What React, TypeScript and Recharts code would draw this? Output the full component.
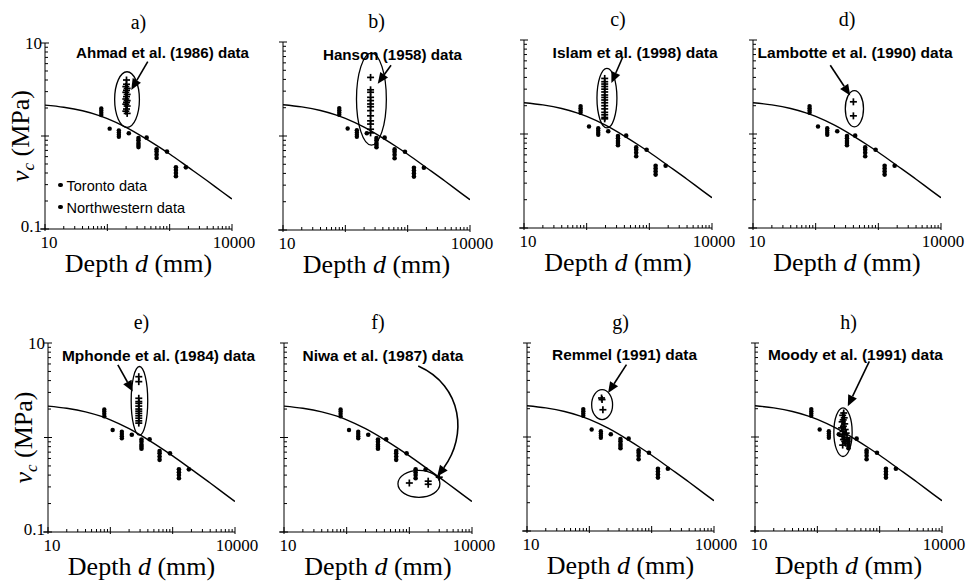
import React from 'react';
import {
  ScatterChart,
  Scatter,
  XAxis,
  YAxis,
  ReferenceArea,
  ReferenceLine,
  ReferenceDot,
  Legend,
  Label,
} from 'recharts';

const SERIF = '"Liberation Serif", "Times New Roman", serif';
const SANS = '"Liberation Sans", Arial, sans-serif';

// ---------- data ----------
const CURVE_DEPTH = [10, 20, 40, 70, 100, 200, 400, 700, 1000, 2000, 4000, 7000, 10000];
const CURVE_SHEAR = [2.15, 2.04, 1.87, 1.68, 1.54, 1.24, 0.95, 0.75, 0.64, 0.46, 0.33, 0.25, 0.21];

const TORONTO_DEPTH = [221, 316, 316, 316, 316, 316, 427, 617, 617, 617, 617, 905, 1260, 1260, 1260, 1260, 1820];
const TORONTO_SHEAR = [1.07, 0.95, 0.9, 0.84, 0.8, 0.76, 0.96, 0.72, 0.68, 0.63, 0.58, 0.68, 0.46, 0.43, 0.4, 0.37, 0.46];

const NW_DEPTH = [80, 80, 80, 80, 109, 153, 153, 153, 153];
const NW_SHEAR = [1.98, 1.88, 1.78, 1.68, 1.2, 1.15, 1.09, 1.03, 0.98];

const AHMAD_DEPTH = [203, 203, 198, 208, 203, 198, 208, 203, 198, 208, 203, 198, 208, 203, 198, 208];
const AHMAD_SHEAR = [4.0, 3.6, 3.4, 3.25, 3.1, 2.95, 2.8, 2.65, 2.5, 2.4, 2.3, 2.2, 2.1, 1.95, 1.85, 1.75];

const HANSON_DEPTH = [254, 254, 254, 254, 254, 254, 254, 254, 254, 254, 254, 254, 254];
const HANSON_SHEAR = [4.2, 3.1, 2.92, 2.58, 2.38, 2.19, 2.05, 1.86, 1.64, 1.45, 1.34, 1.18, 1.08];

const ISLAM_DEPTH = [194, 194, 194, 194, 194, 194, 194, 194, 194, 194, 194, 194, 194, 194, 194, 194];
const ISLAM_SHEAR = [3.9, 3.6, 3.4, 3.2, 3.0, 2.8, 2.6, 2.45, 2.3, 2.15, 2.0, 1.85, 1.7, 1.6, 1.5, 1.45];

const LAMBOTTE_DEPTH = [400, 400];
const LAMBOTTE_SHEAR = [2.2, 1.56];

const MPHONDE_DEPTH = [286, 286, 286, 286, 286, 286, 286, 286, 286, 286, 286, 286, 286];
const MPHONDE_SHEAR = [4.4, 3.9, 2.6, 2.4, 2.3, 2.15, 2.0, 1.9, 1.8, 1.7, 1.6, 1.5, 1.42];

const NIWA_DEPTH = [1000, 2000, 2000, 3000];
const NIWA_SHEAR = [0.33, 0.32, 0.345, 0.38];

const REMMEL_DEPTH = [157, 160, 165];
const REMMEL_SHEAR = [2.6, 2.5, 1.95];

const MOODY_DEPTH = [265, 255, 270, 260, 250, 275, 262, 245, 280, 258, 290, 268, 250, 300, 262, 275, 285, 255];
const MOODY_SHEAR = [1.8, 1.7, 1.6, 1.52, 1.45, 1.38, 1.3, 1.25, 1.2, 1.15, 1.1, 1.06, 1.02, 0.98, 0.94, 0.9, 0.86, 0.82];

const X_TICKS = [10, 20, 30, 40, 50, 60, 70, 80, 90, 100, 200, 300, 400, 500, 600, 700, 800, 900, 1000, 2000, 3000, 4000, 5000, 6000, 7000, 8000, 9000, 10000];
const X_MAJOR = [10, 100, 1000, 10000];
const X_LABELS = [10, 10000];
const Y_TICKS = [0.1, 0.2, 0.3, 0.4, 0.5, 0.6, 0.7, 0.8, 0.9, 1, 2, 3, 4, 5, 6, 7, 8, 9, 10];
const Y_MAJOR = [0.1, 1, 10];
const Y_LABELS = [10, 0.1];
const LEGEND_NAMES = ['Toronto data', 'Northwestern data'];

const zip = (ds: number[], vs: number[]) => ds.map((d, i) => ({ d, v: vs[i] }));
const curveData = zip(CURVE_DEPTH, CURVE_SHEAR);
const torontoData = zip(TORONTO_DEPTH, TORONTO_SHEAR);
const nwData = zip(NW_DEPTH, NW_SHEAR);

// ---------- layout / annotations ----------
type PanelCfg = {
  title: string;
  L: number; T: number; R: number; B: number;
  yLabels: boolean;
  legend: boolean;
  note: string;
  noteAt: [number, number];
  noteW: number;
  depth: number[];
  shear: number[];
  ellipse: [number, number, number, number];
  arrow: [number, number, number, number];
  curved?: boolean;
};

const PANELS: PanelCfg[] = [
  { title: 'a)', L: 45, T: 43, R: 232, B: 229, yLabels: true, legend: true, note: 'Ahmad et al. (1986) data', noteAt: [767, 6.9], noteW: 173, depth: AHMAD_DEPTH, shear: AHMAD_SHEAR, ellipse: [131, 327, 1.24, 4.91], arrow: [445, 6.3, 242, 3.13] },
  { title: 'b)', L: 283, T: 42, R: 470, B: 230, yLabels: false, legend: false, note: 'Hanson (1958) data', noteAt: [571, 6.42], noteW: 139, depth: HANSON_DEPTH, shear: HANSON_SHEAR, ellipse: [151, 455, 0.8, 7.6], arrow: [541, 5.66, 331, 3.6] },
  { title: 'c)', L: 524, T: 40, R: 712, B: 228, yLabels: false, legend: false, note: 'Islam et al. (1998) data', noteAt: [593, 6.42], noteW: 165, depth: ISLAM_DEPTH, shear: ISLAM_SHEAR, ellipse: [146, 304, 1.16, 5.0], arrow: [375, 6.56, 248, 3.48] },
  { title: 'd)', L: 753, T: 40, R: 941, B: 228, yLabels: false, legend: false, note: 'Lambotte et al. (1990) data', noteAt: [425, 6.42], noteW: 195, depth: LAMBOTTE_DEPTH, shear: LAMBOTTE_SHEAR, ellipse: [297, 580, 1.19, 2.9], arrow: [171, 5.38, 356, 2.57] },
  { title: 'e)', L: 48, T: 343, R: 235, B: 532, yLabels: true, legend: false, note: 'Mphonde et al. (1984) data', noteAt: [593, 6.42], noteW: 193, depth: MPHONDE_DEPTH, shear: MPHONDE_SHEAR, ellipse: [216, 398, 1.06, 5.64], arrow: [132, 5.88, 229, 3.06] },
  { title: 'f)', L: 284, T: 343, R: 472, B: 532, yLabels: false, legend: false, note: 'Niwa et al. (1987) data', noteAt: [380, 6.42], noteW: 161, depth: NIWA_DEPTH, shear: NIWA_SHEAR, ellipse: [658, 3076, 0.233, 0.449], arrow: [1387, 5.7, 2786, 0.387], curved: true },
  { title: 'g)', L: 527, T: 343, R: 714, B: 531, yLabels: false, legend: false, note: 'Remmel (1991) data', noteAt: [367, 6.58], noteW: 145, depth: REMMEL_DEPTH, shear: REMMEL_SHEAR, ellipse: [109, 236, 1.53, 3.19], arrow: [394, 5.88, 200, 2.94] },
  { title: 'h)', L: 755, T: 343, R: 942, B: 531, yLabels: false, legend: false, note: 'Moody et al. (1991) data', noteAt: [409, 6.58], noteW: 175, depth: MOODY_DEPTH, shear: MOODY_SHEAR, ellipse: [184, 362, 0.62, 2.04], arrow: [682, 6.37, 308, 2.12] },
];

const ML = 50;
const MT = 45;
const MR = 34;
const MB = 60;

// ---------- shapes ----------
const XTick = (props: any) => {
  const { x, y, payload } = props;
  const v = payload.value;
  const major = X_MAJOR.includes(v);
  return (
    <g>
      <line x1={x} y1={y + (major ? 2 : 0)} x2={x} y2={y - (major ? 5 : 3)} stroke="#000" strokeWidth={1} />
      {v === 10 && <line x1={x - 5} y1={y} x2={x} y2={y} stroke="#000" strokeWidth={1} />}
      {X_LABELS.includes(v) && (
        <text x={x + (v === 10 ? 4 : 2)} y={y + 19} textAnchor="middle" fontFamily={SERIF} fontSize={17} fill="#000">
          {String(v)}
        </text>
      )}
    </g>
  );
};

const makeYTick = (showLabels: boolean) => (props: any) => {
  const { x, y, payload } = props;
  const v = payload.value;
  const major = Y_MAJOR.some((m) => Math.abs(m - v) < 1e-9);
  const lab = showLabels && Y_LABELS.some((m) => Math.abs(m - v) < 1e-9);
  return (
    <g>
      <line x1={x - (major ? 4 : 0)} y1={y} x2={x + (major ? 4 : 3)} y2={y} stroke="#000" strokeWidth={1} />
      {lab && (
        <text x={x - 3} y={y + (v > 1 ? 6 : 3)} textAnchor="end" fontFamily={SERIF} fontSize={17} fill="#000">
          {v > 1 ? '10' : '0.1'}
        </text>
      )}
    </g>
  );
};

const XTitle = (props: any) => {
  const vb = props.viewBox || {};
  const { x = 0, y = 0, width = 0 } = vb;
  return (
    <text x={x + width / 2} y={y + 43} textAnchor="middle" fontFamily={SERIF} fontSize={26} fill="#000">
      Depth <tspan fontStyle="italic">d</tspan> (mm)
    </text>
  );
};

const YTitle = (props: any) => {
  const vb = props.viewBox || {};
  const { x = 0, y = 0, width = 0, height = 0 } = vb;
  const cx = x + width - 16;
  const cy = y + height / 2;
  return (
    <text
      transform={`rotate(-90 ${cx} ${cy})`}
      x={cx}
      y={cy}
      textAnchor="middle"
      fontFamily={SERIF}
      fontSize={26}
      fill="#000"
    >
      <tspan fontStyle="italic">v</tspan>
      <tspan fontStyle="italic" fontSize={17} dy={5}>c</tspan>
      <tspan dy={-5}> (MPa)</tspan>
    </text>
  );
};

const dotShape = (r: number) => (p: any) => <circle cx={p.cx} cy={p.cy} r={r} fill="#000" />;

const crossShape = (p: any) => {
  const { cx, cy } = p;
  const s = 3.5;
  return (
    <g stroke="#000" strokeWidth={1.7}>
      <line x1={cx - s} y1={cy} x2={cx + s} y2={cy} />
      <line x1={cx} y1={cy - s} x2={cx} y2={cy + s} />
    </g>
  );
};

const ellipseShape = (p: any) => {
  const { x, y, width, height } = p;
  return (
    <ellipse
      cx={x + width / 2}
      cy={y + height / 2}
      rx={Math.abs(width) / 2}
      ry={Math.abs(height) / 2}
      fill="none"
      stroke="#000"
      strokeWidth={1.3}
    />
  );
};

const head = (x2: number, y2: number, fromX: number, fromY: number) => {
  const a = Math.atan2(y2 - fromY, x2 - fromX);
  const len = 11;
  const w = 4.8;
  const bx = x2 - len * Math.cos(a);
  const by = y2 - len * Math.sin(a);
  const pts = `${x2},${y2} ${bx + w * Math.sin(a)},${by - w * Math.cos(a)} ${bx - w * Math.sin(a)},${by + w * Math.cos(a)}`;
  return { bx, by, pts };
};

const straightArrow = (p: any) => {
  const { x1, y1, x2, y2 } = p;
  const h = head(x2, y2, x1, y1);
  return (
    <g>
      <line x1={x1} y1={y1} x2={h.bx} y2={h.by} stroke="#000" strokeWidth={1.6} />
      <polygon points={h.pts} fill="#000" />
    </g>
  );
};

const curvedArrow = (p: any) => {
  const { x1, y1, x2, y2 } = p;
  const c1x = x1 + 45;
  const c1y = y1 + 20;
  const c2x = x2 + 30;
  const c2y = y2 - 40;
  const h = head(x2, y2, c2x, c2y);
  return (
    <g>
      <path d={`M${x1},${y1} C${c1x},${c1y} ${c2x},${c2y} ${h.bx},${h.by}`} fill="none" stroke="#000" strokeWidth={1.6} />
      <polygon points={h.pts} fill="#000" />
    </g>
  );
};

const LegendContent = (props: any) => {
  const payload = (props.payload || []).filter((e: any) => LEGEND_NAMES.includes(e.value));
  payload.sort((a: any, b: any) => LEGEND_NAMES.indexOf(a.value) - LEGEND_NAMES.indexOf(b.value));
  return (
    <div style={{ fontFamily: SANS, fontSize: 14.5, color: '#000' }}>
      {payload.map((e: any) => (
        <div key={e.value} style={{ height: 22, lineHeight: '22px', whiteSpace: 'nowrap' }}>
          <span
            style={{
              display: 'inline-block',
              width: 4.5,
              height: 4.5,
              borderRadius: '50%',
              background: '#000',
              verticalAlign: 'middle',
              marginRight: 4,
              position: 'relative',
              top: -2,
            }}
          />
          {e.value}
        </div>
      ))}
    </div>
  );
};

function Panel({ cfg }: { cfg: PanelCfg }) {
  const pw = cfg.R - cfg.L;
  const ph = cfg.B - cfg.T;
  const W = ML + pw + MR;
  const H = MT + ph + MB;
  const cluster = zip(cfg.depth, cfg.shear);
  return (
    <div style={{ position: 'absolute', left: cfg.L - ML, top: cfg.T - MT, width: W, height: H }}>
      <ScatterChart width={W} height={H} margin={{ top: MT, right: MR, bottom: MB - 1, left: ML - 1 }}>
        <XAxis
          type="number"
          dataKey="d"
          scale="log"
          domain={[10, 10000]}
          allowDataOverflow
          ticks={X_TICKS}
          interval={0}
          tick={XTick}
          tickLine={false}
          tickSize={0}
          tickMargin={0}
          height={1}
          axisLine={{ stroke: '#000', strokeWidth: 1 }}
        >
          <Label content={XTitle} />
        </XAxis>
        <YAxis
          type="number"
          dataKey="v"
          scale="log"
          domain={[0.1, 10]}
          allowDataOverflow
          ticks={Y_TICKS}
          interval={0}
          tick={makeYTick(cfg.yLabels)}
          tickLine={false}
          tickSize={0}
          tickMargin={0}
          width={1}
          axisLine={{ stroke: '#000', strokeWidth: 1 }}
        >
          {cfg.yLabels && <Label content={YTitle} />}
        </YAxis>
        <Scatter
          name="curve"
          data={curveData}
          legendType="none"
          line={{ stroke: '#000', strokeWidth: 1.4 }}
          lineJointType="monotoneX"
          shape={() => <g />}
          isAnimationActive={false}
        />
        <Scatter name="Toronto data" data={torontoData} legendType="circle" fill="#000" shape={dotShape(2.3)} isAnimationActive={false} />
        <Scatter name="Northwestern data" data={nwData} legendType="circle" fill="#000" shape={dotShape(2.2)} isAnimationActive={false} />
        <Scatter name={cfg.note} data={cluster} legendType="none" fill="#000" shape={crossShape} isAnimationActive={false} />
        <ReferenceArea
          x1={cfg.ellipse[0]}
          x2={cfg.ellipse[1]}
          y1={cfg.ellipse[2]}
          y2={cfg.ellipse[3]}
          ifOverflow="visible"
          shape={ellipseShape}
        />
        <ReferenceLine
          segment={[
            { x: cfg.arrow[0], y: cfg.arrow[1] },
            { x: cfg.arrow[2], y: cfg.arrow[3] },
          ]}
          ifOverflow="visible"
          shape={cfg.curved ? curvedArrow : straightArrow}
        />
        <ReferenceDot
          x={cfg.noteAt[0]}
          y={cfg.noteAt[1]}
          ifOverflow="visible"
          shape={(p: any) => (
            <text
              x={p.cx}
              y={p.cy}
              textAnchor="middle"
              fontFamily={SANS}
              fontWeight="bold"
              fontSize={15}
              textLength={cfg.noteW}
              lengthAdjust="spacingAndGlyphs"
              fill="#000"
            >
              {cfg.note}
            </text>
          )}
        />
        {cfg.legend && (
          <Legend
            layout="vertical"
            align="center"
            verticalAlign="middle"
            content={LegendContent}
            wrapperStyle={{ left: 63, top: 177, width: 200, height: 50 }}
          />
        )}
      </ScatterChart>
    </div>
  );
}

export default function App() {
  return (
    <div style={{ position: 'absolute', left: 0, top: 0, width: 966, height: 583, overflow: 'hidden', background: '#fff' }}>
      {PANELS.map((cfg) => (
        <React.Fragment key={cfg.title}>
          <div
            style={{
              position: 'absolute',
              left: cfg.L,
              width: cfg.R - cfg.L,
              top: cfg.T - 31,
              textAlign: 'center',
              fontFamily: SERIF,
              fontSize: 20,
              lineHeight: '20px',
              color: '#000',
            }}
          >
            {cfg.title}
          </div>
          <Panel cfg={cfg} />
        </React.Fragment>
      ))}
    </div>
  );
}
